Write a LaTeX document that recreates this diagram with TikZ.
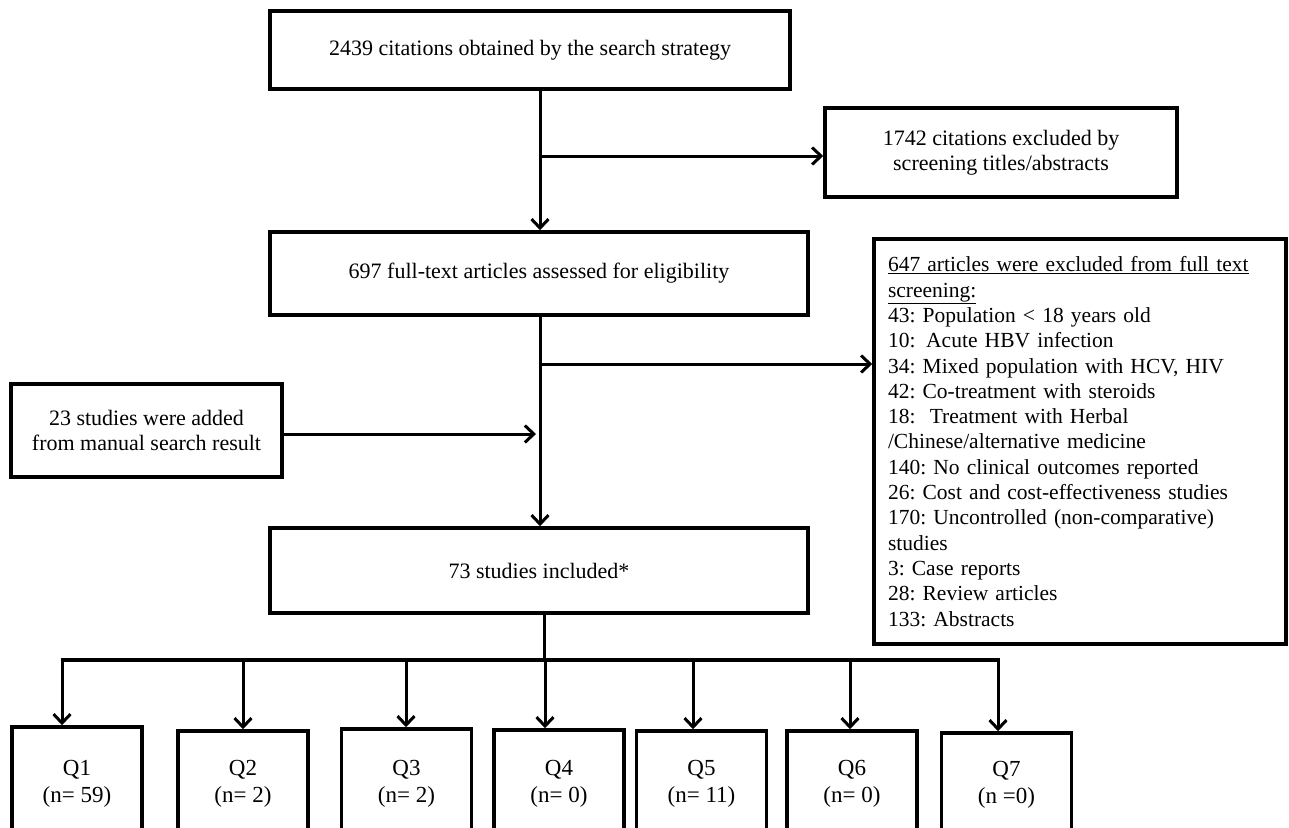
\documentclass[tikz,border=0pt]{standalone}
\usepackage{fontspec}
\setmainfont{Liberation Serif}
\usetikzlibrary{arrows.meta}
\tikzset{
  box/.style={draw, line width=3.5pt, inner sep=0pt, align=center,
    font=\fontsize{22}{25.5}\selectfont},
  qbox/.style={draw, line width=3.5pt, inner sep=0pt, align=center,
    minimum width=130pt, font=\fontsize{23}{27}\selectfont},
  link/.style={line width=3pt},
  arr/.style={line width=3pt, -{Straight Barb[length=9pt,width=17pt]}},
}
\begin{document}
\frenchspacing
\begin{tikzpicture}[x=1pt,y=-1pt]
\useasboundingbox (0,0) rectangle (1289,827);
\clip (0,0) rectangle (1289,827);
% main boxes
\node[box, minimum width=520pt, minimum height=78pt] (top) at (530,50)
  {2439 citations obtained by the search strategy};
\node[box, minimum width=352pt, minimum height=89pt] (excl1) at (1001,152.5)
  {1742 citations excluded by\\screening titles/abstracts};
\node[box, minimum width=538pt, minimum height=83pt] (full) at (539,273.5)
  {697 full-text articles assessed for eligibility};
\node[box, minimum width=412pt, minimum height=405pt, text width=384pt,
  inner xsep=14pt, align=left, font=\fontsize{21.5}{25.3}\selectfont] (excl2) at (1080,441.5)
  {\underline{647 articles were excluded from full text}\\
   \underline{screening:}\\
   43: Population < 18 years old\\
   10:\, Acute HBV infection\\
   34: Mixed population with HCV, HIV\\
   42: Co-treatment with steroids\\
   18:\ \ Treatment with Herbal\\
   /Chinese/alternative medicine\\
   140: No clinical outcomes reported\\
   26: Cost and cost-effectiveness studies\\
   170: Uncontrolled (non-comparative)\\
   studies\\
   3: Case reports\\
   28: Review articles\\
   133: Abstracts};
\node[box, minimum width=271pt, minimum height=93pt] (manual) at (146.5,430.5)
  {23 studies were added\\from manual search result};
\node[box, minimum width=538pt, minimum height=85pt] (incl) at (539,570.5)
  {73 studies included*};
% question boxes
\node[qbox, minimum height=114pt] (q1) at (77,784) {Q1\\(n= 59)};
\node[qbox, minimum height=106pt] (q2) at (243,784) {Q2\\(n= 2)};
\node[qbox, minimum height=110pt] (q3) at (406.5,784) {Q3\\(n= 2)};
\node[qbox, minimum height=108pt] (q4) at (559,784) {Q4\\(n= 0)};
\node[qbox, minimum height=106pt] (q5) at (701.5,784) {Q5\\(n= 11)};
\node[qbox, minimum height=106pt] (q6) at (852,784) {Q6\\(n= 0)};
\node[qbox, minimum height=104pt] (q7) at (1006.5,785) {Q7\\(n =0)};
% junctions
\coordinate (j1) at (540,156);
\coordinate (j2) at (540,364);
\coordinate (j3) at (540,434);
\coordinate (jb) at (544,660);
\coordinate (d1) at (62,660);
\coordinate (d2) at (243,660);
\coordinate (d3) at (406,660);
\coordinate (d4) at (545,660);
\coordinate (d5) at (693,660);
\coordinate (d6) at (850,660);
\coordinate (d7) at (998,660);
% connectors
\draw[arr] (top.south -| j1) -- (j1 |- full.north);
\draw[arr] (j1) -- (j1 -| excl1.west);
\draw[arr] (full.south -| j2) -- (j2 |- incl.north);
\draw[arr] (j2) -- (j2 -| excl2.west);
\draw[arr] (manual.east |- j3) -- ([xshift=-4pt]j3);
\draw[link] (incl.south -| jb) -- (jb);
\draw[line width=3.5pt] ([xshift=-1.5pt]d1) -- ([xshift=1.5pt]d7);
\draw[arr] (d1) -- (d1 |- q1.north);
\draw[arr] (d2) -- (d2 |- q2.north);
\draw[arr] (d3) -- (d3 |- q3.north);
\draw[arr] (d4) -- (d4 |- q4.north);
\draw[arr] (d5) -- (d5 |- q5.north);
\draw[arr] (d6) -- (d6 |- q6.north);
\draw[arr] (d7) -- (d7 |- q7.north);
\end{tikzpicture}
\end{document}
